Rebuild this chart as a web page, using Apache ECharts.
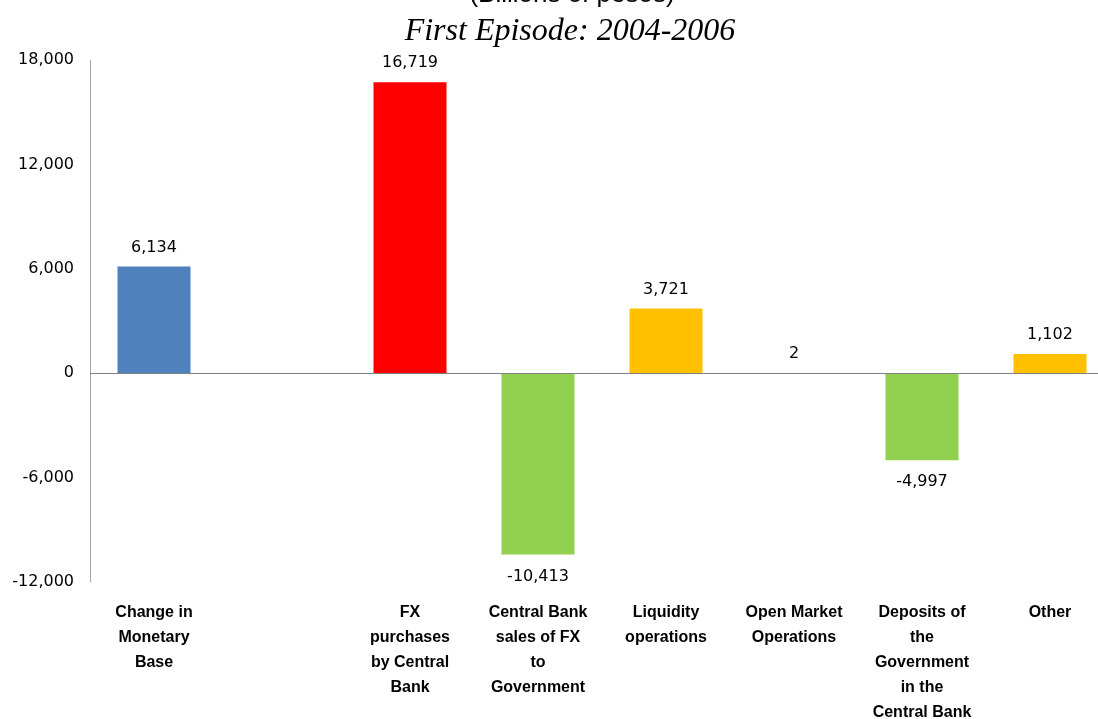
<!DOCTYPE html>
<html>
<head>
<meta charset="utf-8">
<script src="https://cdn.jsdelivr.net/npm/echarts@6/dist/echarts.min.js"></script>
<style>
  html, body { margin: 0; padding: 0; background: #fff; }
  #container { width: 1098px; height: 719px; }
</style>
</head>
<body>
<div id="container"></div>
<script>
// categories (empty slot after the first bar is kept as a gap)
const categories = [
  'Change in\nMonetary\nBase',
  '',
  'FX\npurchases\nby Central\nBank',
  'Central Bank\nsales of FX\nto\nGovernment',
  'Liquidity\noperations',
  'Open Market\nOperations',
  'Deposits of\nthe\nGovernment\nin the\nCentral Bank',
  'Other'
]
const values = [6134, null, 16719, -10413, 3721, 2, -4997, 1102]
const barColors = ['#4f81bd', '#4f81bd', '#ff0000', '#92d050', '#ffc000', '#ffc000', '#92d050', '#ffc000']
const yTicks = { min: -12000, max: 18000, interval: 6000 }

let mychart = echarts.init(document.getElementById('container'))

let options = {
  animation: false,
  title: [
    {
      text: '(Billions of pesos)',
      left: 567,
      top: -23,
      textAlign: 'center',
      textStyle: { fontFamily: 'Liberation Sans', fontWeight: 'normal', fontSize: 26, color: '#000' }
    },
    {
      text: 'First Episode: 2004-2006',
      left: 565,
      top: 11,
      textAlign: 'center',
      textStyle: { fontFamily: 'Liberation Serif', fontStyle: 'italic', fontWeight: 'normal', fontSize: 32, color: '#000' }
    }
  ],
  grid: {
    left: 90,
    width: 1024,
    top: 60,
    bottom: 137,
    outerBoundsMode: 'none'
  },
  xAxis: {
    type: 'category',
    data: categories,
    axisLine: { show: false, onZero: false },
    axisTick: { show: false },
    axisLabel: {
      interval: 0,
      margin: 18,
      color: '#000',
      fontFamily: 'Liberation Sans',
      fontWeight: 'bold',
      fontSize: 16,
      lineHeight: 25,
      align: 'center',
      verticalAlign: 'top'
    }
  },
  yAxis: {
    type: 'value',
    min: yTicks.min,
    max: yTicks.max,
    interval: yTicks.interval,
    axisLine: { show: true, lineStyle: { color: '#a6a6a6', width: 1 } },
    axisTick: { show: false },
    splitLine: { show: false },
    axisLabel: {
      margin: 16,
      color: '#000',
      fontFamily: 'DejaVu Sans',
      fontSize: 16,
      formatter: v => v.toLocaleString('en-US')
    }
  },
  series: [
    {
      type: 'bar',
      barWidth: 73,
      data: values.map((v, i) => ({
        value: v,
        itemStyle: { color: barColors[i] },
        label: v < 0 ? { position: 'bottom', distance: 14 } : { position: 'top', distance: 11 }
      })),
      label: {
        show: true,
        color: '#000',
        fontFamily: 'DejaVu Sans',
        fontSize: 16,
        formatter: p => p.value == null ? '' : p.value.toLocaleString('en-US')
      },
      markLine: {
        silent: true,
        symbol: 'none',
        label: { show: false },
        lineStyle: { color: '#808080', type: 'solid', width: 1 },
        data: [{ yAxis: 0 }]
      }
    }
  ]
}

mychart.setOption(options)
window.addEventListener('resize', () => { mychart.resize() })
</script>
</body>
</html>
